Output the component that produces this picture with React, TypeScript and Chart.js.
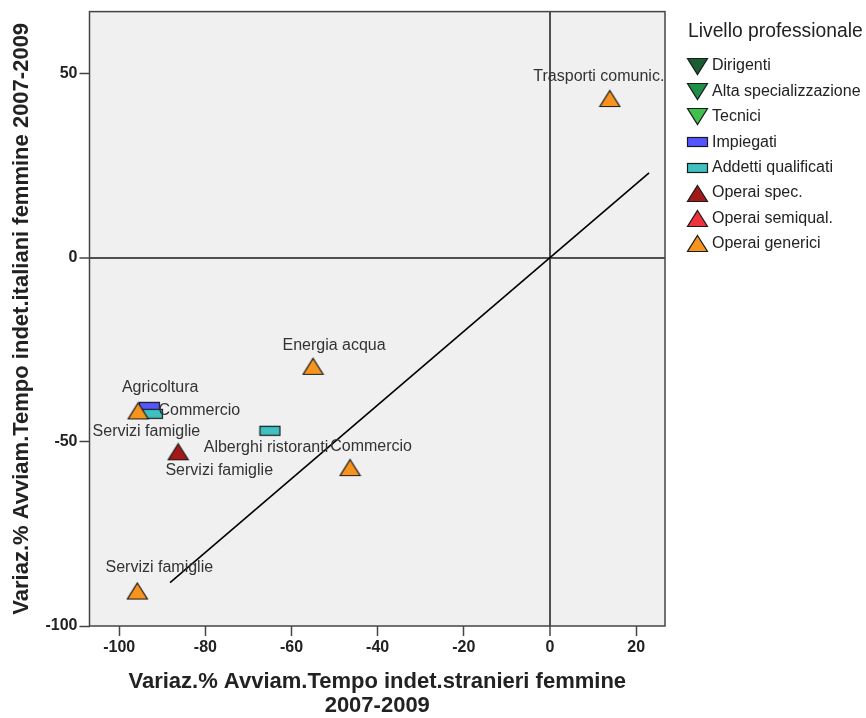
import React, { useEffect, useRef } from "react";
import { Chart, registerables } from "chart.js";
Chart.register(...registerables);

// ---- Data ----
const levels = [
  "Dirigenti",
  "Alta specializzazione",
  "Tecnici",
  "Impiegati",
  "Addetti qualificati",
  "Operai spec.",
  "Operai semiqual.",
  "Operai generici",
];

const dirigentiX: number[] = [];
const dirigentiY: number[] = [];
const dirigentiLabels: string[] = [];

const altaSpecX: number[] = [];
const altaSpecY: number[] = [];
const altaSpecLabels: string[] = [];

const tecniciX: number[] = [];
const tecniciY: number[] = [];
const tecniciLabels: string[] = [];

const impiegatiX = [-93.0];
const impiegatiY = [-40.5];
const impiegatiLabels = ["Commercio"];

const addettiX = [-92.3, -65.0];
const addettiY = [-42.4, -47.0];
const addettiLabels = ["Servizi famiglie", "Alberghi ristoranti"];

const operaiSpecX = [-86.3];
const operaiSpecY = [-52.7];
const operaiSpecLabels = ["Servizi famiglie"];

const operaiSemiX: number[] = [];
const operaiSemiY: number[] = [];
const operaiSemiLabels: string[] = [];

const operaiGenX = [13.9, -55.0, -95.6, -46.4, -95.8];
const operaiGenY = [43.2, -29.5, -41.6, -57.0, -90.5];
const operaiGenLabels = [
  "Trasporti comunic.",
  "Energia acqua",
  "Agricoltura",
  "Commercio",
  "Servizi famiglie",
];

const refLineX = [-88.2, 23.0];
const refLineY = [-88.2, 23.0];

const xTicks = [-100, -80, -60, -40, -20, 0, 20];
const yTicks = [50, 0, -50, -100];

const xTitle = ["Variaz.% Avviam.Tempo indet.stranieri femmine", "2007-2009"];
const yTitle = "Variaz.% Avviam.Tempo indet.italiani femmine 2007-2009";
const legendTitle = "Livello professionale";

// ---- Styles ----
const levelColors = [
  "#1b5c30",
  "#1f8f48",
  "#3ec24c",
  "#5555ff",
  "#40c0c0",
  "#a51818",
  "#f0323f",
  "#f7941d",
];
const levelShapes = ["down", "down", "down", "rect", "rect", "up", "up", "up"];

// pixel offsets of point labels (style only)
const labelOffsets: number[][][] = [
  [],
  [],
  [],
  [[50, 4]],
  [[-6, 18], [-4, 17]],
  [[41, 19]],
  [],
  [[-11, -22], [21, -21], [22, -23], [21, -21], [22, -23]],
];

const FONT = '"Liberation Sans", Arial, Helvetica, sans-serif';

function makeMarker(shape: string, color: string): HTMLCanvasElement {
  const c = document.createElement("canvas");
  const ctx = c.getContext("2d")!;
  if (shape === "rect") {
    c.width = 23;
    c.height = 12;
    ctx.fillStyle = color;
    ctx.fillRect(1.5, 1.5, 20, 9);
    ctx.strokeStyle = "#1a1a1a";
    ctx.lineWidth = 1.2;
    ctx.strokeRect(1.5, 1.5, 20, 9);
  } else {
    c.width = 23;
    c.height = 19;
    ctx.beginPath();
    if (shape === "up") {
      ctx.moveTo(11.5, 1.5);
      ctx.lineTo(21.5, 17.5);
      ctx.lineTo(1.5, 17.5);
    } else {
      ctx.moveTo(1.5, 1.5);
      ctx.lineTo(21.5, 1.5);
      ctx.lineTo(11.5, 17.5);
    }
    ctx.closePath();
    ctx.fillStyle = color;
    ctx.fill();
    ctx.strokeStyle = "#1a1a1a";
    ctx.lineWidth = 1.2;
    ctx.stroke();
  }
  return c;
}

export default function App() {
  const ref = useRef<HTMLCanvasElement | null>(null);

  useEffect(() => {
    if (!ref.current) return;
    const markers = levels.map((_, i) => makeMarker(levelShapes[i], levelColors[i]));

    const seriesX = [dirigentiX, altaSpecX, tecniciX, impiegatiX, addettiX, operaiSpecX, operaiSemiX, operaiGenX];
    const seriesY = [dirigentiY, altaSpecY, tecniciY, impiegatiY, addettiY, operaiSpecY, operaiSemiY, operaiGenY];
    const seriesLabels = [
      dirigentiLabels,
      altaSpecLabels,
      tecniciLabels,
      impiegatiLabels,
      addettiLabels,
      operaiSpecLabels,
      operaiSemiLabels,
      operaiGenLabels,
    ];

    const datasets: any[] = levels.map((name, i) => ({
      type: "scatter",
      label: name,
      data: seriesX[i].map((x, j) => ({ x, y: seriesY[i][j] })),
      pointStyle: markers[i],
      pointRadius: 10,
      order: 7 - i,
      pointLabels: seriesLabels[i],
      pointLabelOffsets: labelOffsets[i],
    }));
    datasets.push({
      type: "line",
      label: "ref",
      data: refLineX.map((x, j) => ({ x, y: refLineY[j] })),
      borderColor: "#000",
      borderWidth: 1.6,
      pointRadius: 0,
      fill: false,
      order: 20,
    });

    const bgPlugin = {
      id: "bg",
      beforeDraw(chart: any) {
        const { ctx, chartArea: a } = chart;
        ctx.save();
        ctx.fillStyle = "#ffffff";
        ctx.fillRect(0, 0, chart.width, chart.height);
        ctx.fillStyle = "#f0f0f0";
        ctx.fillRect(a.left, a.top, a.right - a.left, a.bottom - a.top);
        ctx.restore();
      },
      afterDatasetsDraw(chart: any) {
        const { ctx } = chart;
        ctx.save();
        ctx.font = `16px ${FONT}`;
        ctx.fillStyle = "#333333";
        ctx.textAlign = "center";
        ctx.textBaseline = "middle";
        chart.data.datasets.forEach((ds: any, di: number) => {
          if (!ds.pointLabels) return;
          const meta = chart.getDatasetMeta(di);
          ds.pointLabels.forEach((t: string, j: number) => {
            const el = meta.data[j];
            if (!el) return;
            const off = (ds.pointLabelOffsets && ds.pointLabelOffsets[j]) || [0, -22];
            ctx.fillText(t, el.x + off[0], el.y + off[1]);
          });
        });
        ctx.restore();
      },
      afterDraw(chart: any) {
        const { ctx, chartArea: a } = chart;
        ctx.save();
        ctx.strokeStyle = "#444444";
        ctx.lineWidth = 1.5;
        ctx.strokeRect(a.left, a.top, a.right - a.left, a.bottom - a.top);
        // legend
        const lx = a.right + 23;
        ctx.fillStyle = "#222222";
        ctx.textAlign = "left";
        ctx.textBaseline = "middle";
        ctx.font = `19.3px ${FONT}`;
        ctx.fillText(legendTitle, lx, 32);
        ctx.font = `16px ${FONT}`;
        levels.forEach((name, i) => {
          const y = 66 + i * 25.4;
          const m = markers[i];
          ctx.drawImage(m, Math.round(lx + 9 - m.width / 2), Math.round(y - m.height / 2));
          ctx.fillText(name, lx + 24, y);
        });
        ctx.restore();
      },
    };

    const gridColor = (c: any) => (c.tick && c.tick.value === 0 ? "#505050" : "rgba(0,0,0,0)");
    const gridWidth = (c: any) => (c.tick && c.tick.value === 0 ? 2 : 1);

    const chart = new Chart(ref.current, {
      type: "scatter",
      data: { datasets },
      plugins: [bgPlugin],
      options: {
        animation: false,
        responsive: false,
        layout: { padding: { top: 10, right: 201, left: 0, bottom: 0 } },
        plugins: {
          legend: { display: false },
          tooltip: { enabled: false },
        },
        scales: {
          x: {
            type: "linear",
            min: -106.9,
            max: 26.7,
            afterBuildTicks: (s: any) => {
              s.ticks = xTicks.map((v) => ({ value: v }));
            },
            afterFit: (s: any) => {
              s.height = 92;
            },
            grid: {
              color: gridColor,
              lineWidth: gridWidth,
              tickColor: "#444444",
              tickLength: 10,
              tickWidth: 1.5,
            },
            border: { display: false },
            ticks: {
              font: { family: FONT, size: 16, weight: "bold" },
              color: "#222222",
              padding: 2,
              maxRotation: 0,
            },
            title: {
              display: true,
              text: xTitle,
              font: { family: FONT, size: 22, weight: "bold", lineHeight: 1.05 },
              color: "#222222",
              padding: { top: 0, bottom: 1 },
            },
          },
          y: {
            type: "linear",
            min: -100,
            max: 66.8,
            afterBuildTicks: (s: any) => {
              s.ticks = yTicks.map((v) => ({ value: v }));
            },
            afterFit: (s: any) => {
              s.width = 89.5;
            },
            grid: {
              color: gridColor,
              lineWidth: gridWidth,
              tickColor: "#444444",
              tickLength: 10,
              tickWidth: 1.5,
            },
            border: { display: false },
            ticks: {
              font: { family: FONT, size: 16, weight: "bold" },
              color: "#222222",
              padding: 2,
            },
            title: {
              display: true,
              text: yTitle,
              font: { family: FONT, size: 22, weight: "bold", lineHeight: 1.2 },
              color: "#222222",
              padding: { top: 9, bottom: 0 },
            },
          },
        },
      } as any,
    });
    return () => chart.destroy();
  }, []);

  return (
    <div style={{ position: "absolute", left: 0, top: 0, width: 866, height: 718 }}>
      <canvas ref={ref} width={866} height={718} style={{ display: "block" }} />
    </div>
  );
}
